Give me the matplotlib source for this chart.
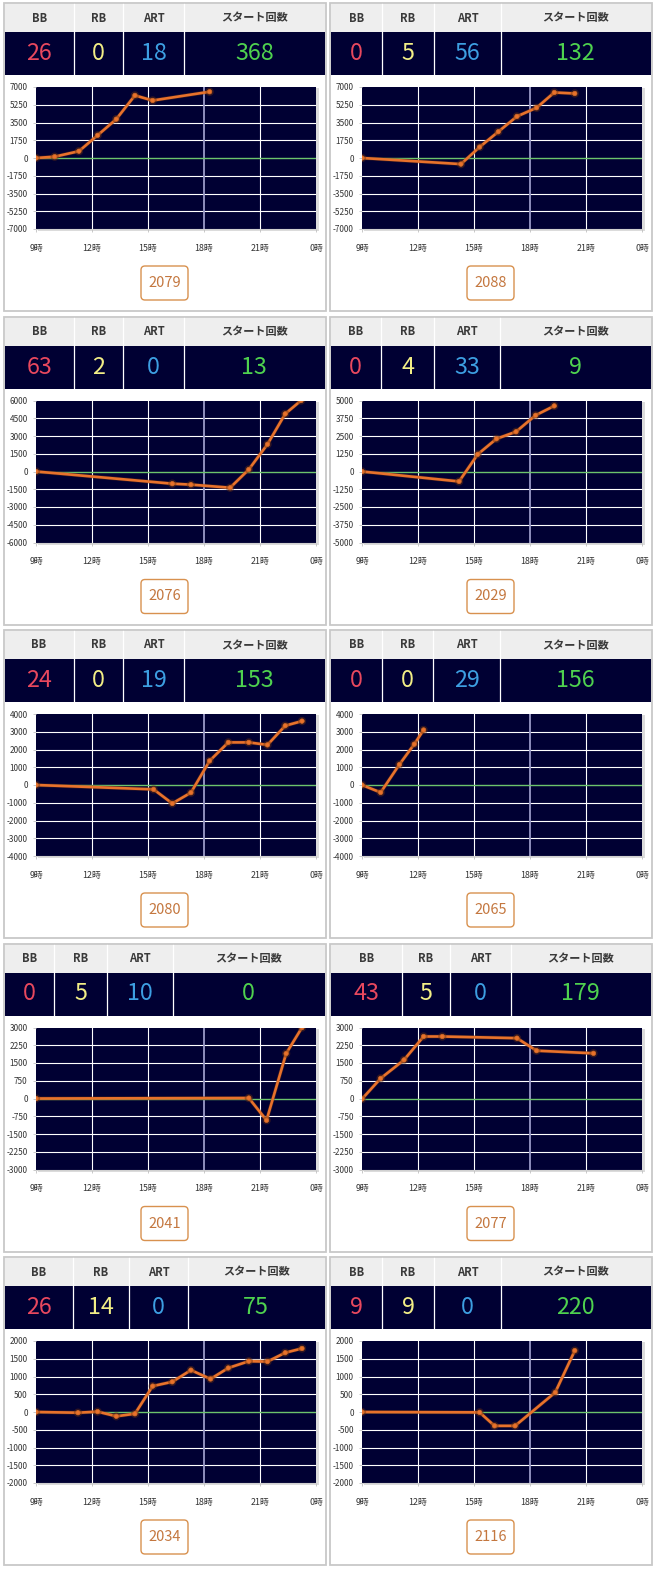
import matplotlib
matplotlib.use("Agg")
import matplotlib.pyplot as plt
from matplotlib.patches import Rectangle, FancyBboxPatch
import matplotlib.patheffects as pe

plt.rcParams['font.family'] = ['Noto Sans CJK JP', 'DejaVu Sans']

# ---------------- data ----------------
header_labels = ['BB', 'RB', 'ART', 'スタート回数']
bb_values = [26, 0, 63, 0, 24, 0, 0, 43, 26, 9]
rb_values = [0, 5, 2, 4, 0, 0, 5, 5, 14, 9]
art_values = [18, 56, 0, 33, 19, 29, 10, 0, 0, 0]
start_values = [368, 132, 13, 9, 153, 156, 0, 179, 75, 220]
machine_numbers = ['2079', '2088', '2076', '2029', '2080', '2065', '2041', '2077', '2034', '2116']
y_limits = [7000, 7000, 6000, 5000, 4000, 4000, 3000, 3000, 2000, 2000]
x_ticks = [9, 12, 15, 18, 21, 24]
x_tick_labels = ['9時', '12時', '15時', '18時', '21時', '0時']

hours_2079 = [9.0, 10.0, 11.3, 12.3, 13.3, 14.3, 15.25, 18.3]
diff_2079 = [0, 130, 670, 2240, 3830, 6170, 5670, 6530]
hours_2088 = [9.0, 14.3, 15.3, 16.3, 17.3, 18.35, 19.3, 20.4]
diff_2088 = [0, -600, 1080, 2590, 4100, 4950, 6460, 6360]
hours_2076 = [9.0, 16.3, 17.3, 19.4, 20.4, 21.4, 22.35, 23.2]
diff_2076 = [0, -1030, -1110, -1370, 170, 2300, 4870, 6000]
hours_2029 = [9.0, 14.2, 15.2, 16.2, 17.25, 18.3, 19.3]
diff_2029 = [0, -700, 1210, 2300, 2800, 3960, 4620]
hours_2080 = [9.0, 15.3, 16.3, 17.3, 18.3, 19.3, 20.4, 21.4, 22.35, 23.25]
diff_2080 = [0, -245, -1040, -430, 1360, 2400, 2400, 2260, 3340, 3600]
hours_2065 = [9.0, 10.0, 11.0, 11.8, 12.3]
diff_2065 = [0, -420, 1150, 2300, 3100]
hours_2041 = [9.0, 20.4, 21.35, 22.4, 23.25]
diff_2041 = [0, 20, -920, 1900, 3000]
hours_2077 = [9.0, 10.0, 11.25, 12.3, 13.3, 17.3, 18.35, 21.4]
diff_2077 = [-20, 850, 1630, 2620, 2620, 2550, 2020, 1910]
hours_2034 = [9.0, 11.25, 12.3, 13.3, 14.3, 15.25, 16.3, 17.3, 18.35, 19.3, 20.4, 21.4, 22.35, 23.25]
diff_2034 = [0, -20, 10, -120, -50, 730, 850, 1180, 930, 1240, 1430, 1420, 1670, 1790]
hours_2116 = [9.0, 15.3, 16.1, 17.2, 19.35, 20.4]
diff_2116 = [0, -10, -390, -390, 550, 1730]

series_hours = [hours_2079, hours_2088, hours_2076, hours_2029, hours_2080,
                hours_2065, hours_2041, hours_2077, hours_2034, hours_2116]
series_diff = [diff_2079, diff_2088, diff_2076, diff_2029, diff_2080,
               diff_2065, diff_2041, diff_2077, diff_2034, diff_2116]

# ---------------- layout (pixels) ----------------
W, H = 654, 1570
col_dividers = [
    (70.5, 119.5, 180.5), (52.5, 104.5, 171.5),
    (70.5, 119.5, 180.5), (51.5, 104.5, 170.5),
    (70.0, 119.5, 180.5), (52.5, 103.5, 170.5),
    (50.5, 103.5, 169.5), (72.5, 120.5, 181.5),
    (69.5, 125.5, 184.5), (52.5, 104.5, 171.5),
]
value_colors = ['#e8485e', '#f2ee86', '#3d9fe2', '#4fd24f']
NAVY = '#000033'

fig = plt.figure(figsize=(W / 100, H / 100), dpi=100)
bg = fig.add_axes([0, 0, 1, 1])
bg.set_xlim(0, W)
bg.set_ylim(H, 0)
bg.axis('off')


def frac_rect(x0, y0, w, h):
    return [x0 / W, 1 - (y0 + h) / H, w / W, h / H]


for i in range(10):
    r, c = divmod(i, 2)
    px = 3.5 + c * 326
    py = 3 + r * 313.5
    pw, ph = 322, 308

    bg.add_patch(Rectangle((px, py), pw, ph, facecolor='white', edgecolor='#c8c8c8', lw=1.3, zorder=1))
    bg.add_patch(Rectangle((px + 1, py + 1), pw - 2, 28, facecolor='#eeeeee', edgecolor='none', zorder=2))
    bg.add_patch(Rectangle((px + 1, py + 29), pw - 2, 43, facecolor=NAVY, edgecolor='none', zorder=2))
    edges = [1] + list(col_dividers[i]) + [pw - 1]
    for d in col_dividers[i]:
        bg.plot([px + d, px + d], [py + 1, py + 72], color='white', lw=0.9, zorder=3)
    vals = [bb_values[i], rb_values[i], art_values[i], start_values[i]]
    for k in range(4):
        cx = px + (edges[k] + edges[k + 1]) / 2
        bg.text(cx, py + 15, header_labels[k], ha='center', va='center',
                fontsize=8.0, fontweight='bold', color='#3a3a3a', zorder=4)
        bg.text(cx, py + 50.5, str(vals[k]), ha='center', va='center',
                fontsize=16.8, color=value_colors[k], zorder=4)

    # chart
    x0, y0, w, h = px + 32.5, py + 84, 280, 142
    bg.add_patch(Rectangle((x0 + 2, y0 + 1), w + 1, h + 1, facecolor='#dcdcdc', edgecolor='none', zorder=2))
    ax = fig.add_axes(frac_rect(x0, y0, w, h))
    ax.set_facecolor(NAVY)
    lim = y_limits[i]
    step = lim / 4
    ax.set_xlim(9, 24)
    ax.set_ylim(-lim, lim)
    yt = [-lim + step * k for k in range(9)]
    ax.set_yticks(yt)
    ax.set_yticklabels([f'{int(v)}' for v in yt])
    ax.set_xticks(x_ticks)
    ax.set_xticklabels(x_tick_labels)
    ax.tick_params(axis='y', length=2, width=0.6, color='#c0c0c0', pad=4.0,
                   labelsize=5.9, labelcolor='#333333')
    ax.tick_params(axis='x', length=2.5, width=0.6, color='#c0c0c0', pad=8.0,
                   labelsize=6.4, labelcolor='#333333')
    for s in ['top', 'right', 'left']:
        ax.spines[s].set_visible(False)
    ax.spines['bottom'].set_color('#d0d0d0')
    ax.spines['bottom'].set_linewidth(0.8)
    for v in yt[1:-1]:
        if v != 0:
            ax.axhline(v, color='white', lw=0.8, zorder=1)
    for xv in x_ticks[1:-1]:
        ax.axvline(xv, color='#9a9ac8' if xv == 18 else 'white',
                   lw=1.3 if xv == 18 else 0.8, zorder=1)
    ax.axhline(0, color='#6cc46c', lw=1.0, zorder=2)
    ax.plot(series_hours[i], series_diff[i], color='#e8722c', lw=1.9, marker='o',
            ms=3.2, mfc='#e8722c', mec='#c86424', mew=0.5, zorder=3,
            path_effects=[pe.Stroke(linewidth=2.8, foreground='#6a3010', alpha=0.45), pe.Normal()])

    # button
    bx, by = px + pw / 2, py + 280
    bg.add_patch(FancyBboxPatch((bx - 23.5, by - 17), 47, 34,
                                boxstyle='round,pad=0,rounding_size=4',
                                facecolor='white', edgecolor='#d8914f', lw=1.0, zorder=3))
    bg.text(bx, by, machine_numbers[i], ha='center', va='center', fontsize=10.5,
            color='#c4773f', zorder=4)

fig.savefig('out.png', dpi=100, facecolor='white')
